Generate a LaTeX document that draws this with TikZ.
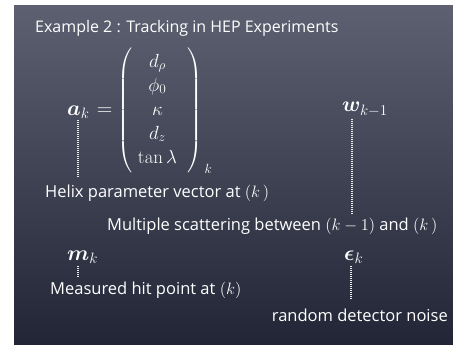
\RequirePackage{fix-cm}
\documentclass[tikz,border=0pt]{standalone}
\usepackage{amsmath}
\usepackage{bm}
\usepackage[no-math]{fontspec}
\setmainfont{Open Sans}
\begin{document}
\begin{tikzpicture}[x=1pt,y=-1pt,
  txt/.style={text=white,inner sep=0pt,font=\fontsize{16.5}{19}\selectfont},
  mth/.style={text=white,inner sep=0pt,font=\fontsize{21.5}{26}\selectfont},
  entries/.style={text=white,inner sep=0pt,font=\fontsize{19}{24}\selectfont},
  chalkdots/.style={draw=white!85!gray,line width=1.3pt,dash pattern=on 1pt off 1pt}]
\useasboundingbox (0,0) rectangle (453,345);
% board
\fill[white] (0,0) rectangle (453,345);
\shade[top color={rgb,255:red,92;green,96;blue,112},bottom color={rgb,255:red,34;green,37;blue,54}]
  (14,6) rectangle (453,345);
% title
\node[txt,anchor=base west,font=\fontsize{16}{19}\selectfont] (title) at (35,33) {Example 2 : Tracking in HEP Experiments};
% state vector
\node[mth,anchor=base west] (ak) at (67,115) {$\bm{a}_k$};
\node[mth,anchor=base west] (eq) at ([xshift=7pt]ak.base east) {$=$};
\node[entries,anchor=base west] (vec) at ([xshift=5pt]eq.base east)
  {$\left(\begin{array}{c} d_\rho\\ \phi_0\\ \kappa\\ d_z\\ \tan\lambda \end{array}\;\right)_{\,k}$};
\node[txt,anchor=base west] (helix) at (45,197) {Helix parameter vector at $(k\,)$};
\draw[chalkdots] ([xshift=11pt,yshift=-2pt]ak.south west) -- ([xshift=11pt,yshift=6pt]ak.south west |- helix.north);
% process noise
\node[mth,anchor=base west] (wk) at (342,112) {$\bm{w}_{k-1}$};
\node[txt,anchor=base west] (scat) at (107,230) {Multiple scattering between $(k-1)$ and $(k\,)$};
\draw[chalkdots] ([xshift=10pt,yshift=-2pt]wk.south west) -- ([xshift=10pt,yshift=4pt]wk.south west |- scat.north);
% measurement
\node[mth,anchor=base west] (mk) at (67,260) {$\bm{m}_k$};
\node[txt,anchor=base west] (hit) at (50,294) {Measured hit point at $(k)$};
\draw[chalkdots] ([xshift=11pt,yshift=-3pt]mk.south west) -- ([xshift=11pt,yshift=4pt]mk.south west |- hit.north);
% measurement noise
\node[mth,anchor=base west] (ek) at (344,260) {$\bm{\epsilon}_k$};
\node[txt,anchor=base east] (noise) at (448,321) {random detector noise};
\draw[chalkdots] ([xshift=7pt,yshift=-3pt]ek.south west) -- ([xshift=7pt,yshift=8pt]ek.south west |- noise.north);
\end{tikzpicture}
\end{document}
